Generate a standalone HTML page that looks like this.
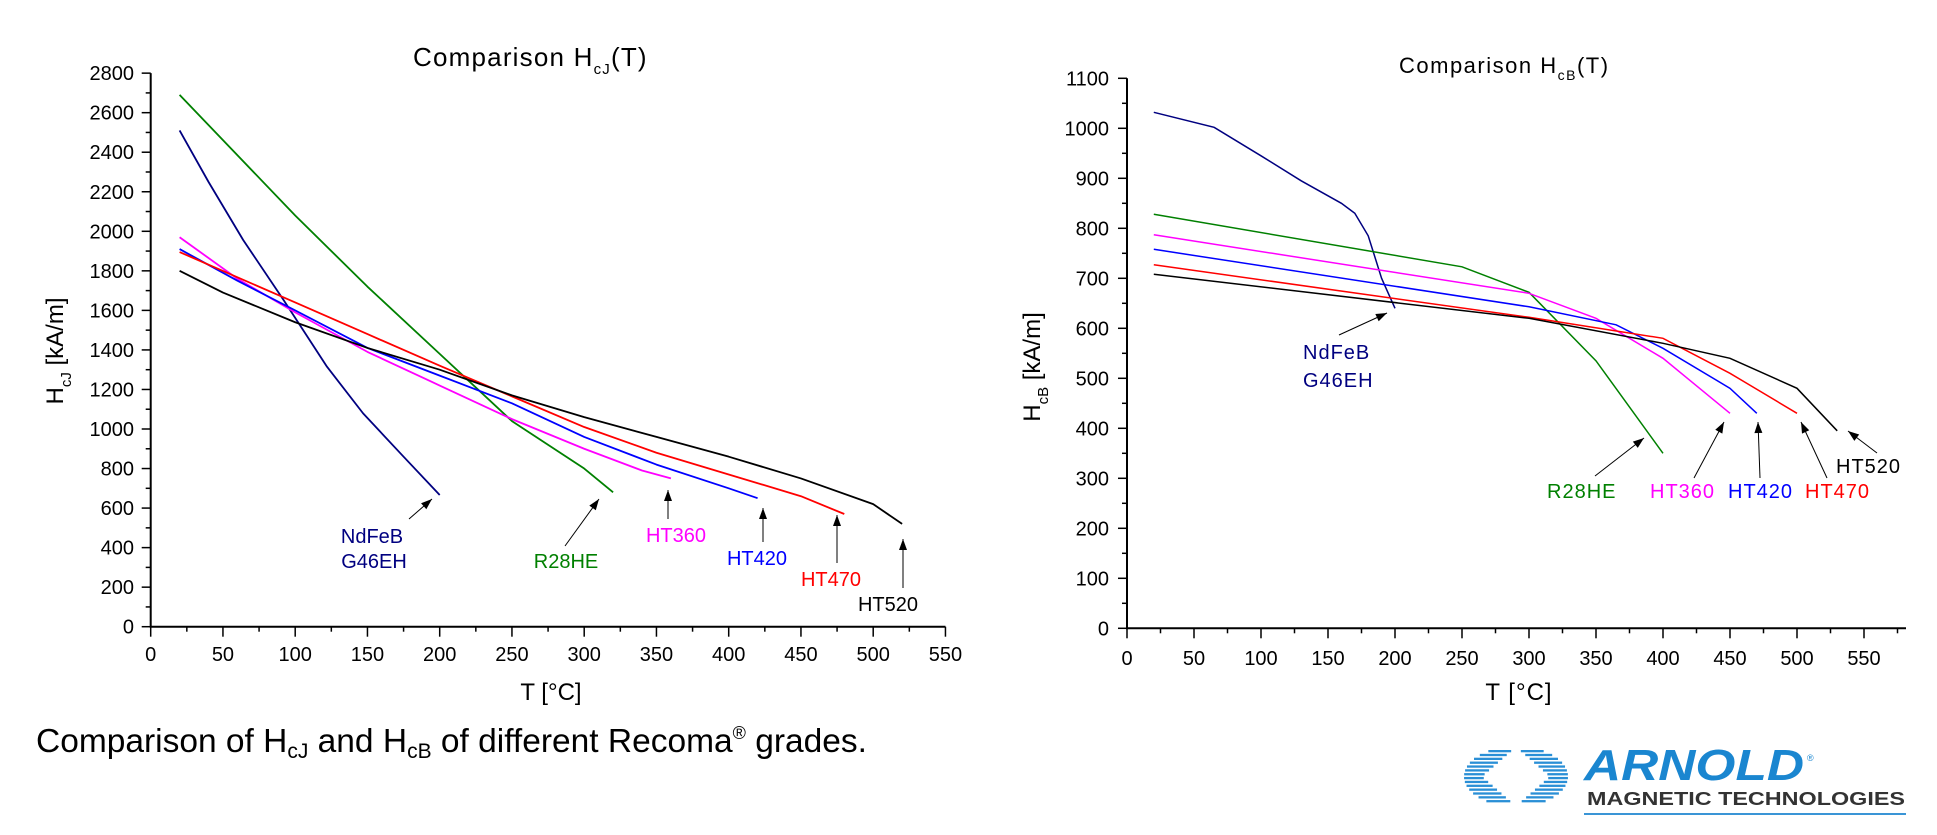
<!DOCTYPE html>
<html><head><meta charset="utf-8"><style>
html,body{margin:0;padding:0;background:#fff;}
svg{display:block;font-family:"Liberation Sans",Arial,sans-serif;}
</style></head><body>
<svg id="s" width="1937" height="835" viewBox="0 0 1937 835" xmlns="http://www.w3.org/2000/svg">
<g id="g"></g>
<!-- Left chart text -->
<text x="413" y="66" font-size="26" letter-spacing="1.2" fill="#000">Comparison H<tspan font-size="15" dy="8">cJ</tspan><tspan dy="-8">(T)</tspan></text>
<text transform="translate(63,351) rotate(-90)" text-anchor="middle" font-size="24" fill="#000">H<tspan font-size="15" dy="8">cJ</tspan><tspan dy="-8"> [kA/m]</tspan></text>
<text x="551" y="700" text-anchor="middle" font-size="24" fill="#000">T [°C]</text>
<g font-size="20">
<text x="372" y="543" text-anchor="middle" fill="#000080">NdFeB</text>
<text x="374" y="568" text-anchor="middle" fill="#000080">G46EH</text>
<text x="566" y="568" text-anchor="middle" fill="#008000">R28HE</text>
<text x="676" y="542" text-anchor="middle" fill="#ff00ff">HT360</text>
<text x="757" y="565" text-anchor="middle" fill="#0000ff">HT420</text>
<text x="831" y="586" text-anchor="middle" fill="#ff0000">HT470</text>
<text x="888" y="611" text-anchor="middle" fill="#000">HT520</text>
</g>
<!-- Right chart text -->
<text x="1399" y="73" font-size="22" letter-spacing="1.5" fill="#000">Comparison H<tspan font-size="14" dy="7">cB</tspan><tspan dy="-7">(T)</tspan></text>
<text transform="translate(1040,367) rotate(-90)" text-anchor="middle" font-size="24" fill="#000">H<tspan font-size="15" dy="8">cB</tspan><tspan dy="-8"> [kA/m]</tspan></text>
<text x="1519" y="700" text-anchor="middle" font-size="24" letter-spacing="1" fill="#000">T [°C]</text>
<g font-size="20" letter-spacing="1">
<text x="1303" y="359" fill="#000080">NdFeB</text>
<text x="1303" y="387" fill="#000080">G46EH</text>
<text x="1547" y="498" fill="#008000">R28HE</text>
<text x="1650" y="498" fill="#ff00ff">HT360</text>
<text x="1728" y="498" fill="#0000ff">HT420</text>
<text x="1805" y="498" fill="#ff0000">HT470</text>
<text x="1836" y="473" fill="#000">HT520</text>
</g>
<!-- caption -->
<text x="36" y="752" font-size="33.5" fill="#000">Comparison of H<tspan font-size="21" dy="6">cJ</tspan><tspan dy="-6"> and H</tspan><tspan font-size="21" dy="6">cB</tspan><tspan dy="-6"> of different Recoma</tspan><tspan font-size="18" dy="-13">®</tspan><tspan dy="13"> grades.</tspan></text>
<!-- logo -->
<g id="logo"></g>
<text x="1584" y="780" font-size="44" font-weight="bold" font-style="italic" fill="#1a86d0" textLength="220" lengthAdjust="spacingAndGlyphs">ARNOLD</text>
<text x="1807" y="761" font-size="9" fill="#1a86d0">®</text>
<text x="1587" y="805" font-size="18" font-weight="bold" fill="#333" textLength="318" lengthAdjust="spacingAndGlyphs">MAGNETIC TECHNOLOGIES</text>
<rect x="1584" y="813" width="322" height="2" fill="#3a95d6"/>
</svg>
<script>
const NS="http://www.w3.org/2000/svg",g=document.getElementById('g');
function el(t,a,p){const e=document.createElementNS(NS,t);for(const k in a)e.setAttribute(k,a[k]);(p||g).appendChild(e);return e;}
function txt(x,y,s,anchor){const e=el('text',{x:x,y:y,'font-size':20,'text-anchor':anchor,fill:'#000'});e.textContent=s;}
// LEFT
let LX=T=>150.7+1.445*T, LY=H=>626.7-0.1977*H;
el('path',{d:`M${LX(0)},${LY(2800)}V${LY(0)}H${LX(550)}`,stroke:'#000','stroke-width':2,fill:'none'});
for(let h=0;h<=2800;h+=100){let y=LY(h);let maj=h%200==0;el('line',{x1:LX(0),x2:LX(0)-(maj?9:5),y1:y,y2:y,stroke:'#000','stroke-width':1.5});if(maj)txt(134,y+7,String(h),'end');}
for(let t=0;t<=550;t+=25){let x=LX(t);let maj=t%50==0;el('line',{x1:x,x2:x,y1:LY(0),y2:LY(0)+(maj?10:5),stroke:'#000','stroke-width':1.5});if(maj)txt(x,661,String(t),'middle');}
const Ld=[
['#000080',[[20,2510],[40,2250],[64,1956],[92,1652],[122,1315],[147,1079],[175,860],[200,666]]],
['#008000',[[20,2690],[100,2080],[150,1720],[200,1380],[250,1040],[300,800],[320,680]]],
['#ff00ff',[[20,1970],[60,1760],[100,1590],[150,1390],[200,1220],[250,1050],[300,900],[340,790],[360,750]]],
['#0000ff',[[20,1910],[60,1750],[100,1600],[150,1410],[200,1270],[250,1130],[300,960],[350,820],[400,700],[420,650]]],
['#ff0000',[[20,1895],[100,1640],[150,1480],[200,1320],[250,1165],[300,1010],[350,880],[400,770],[450,660],[480,570]]],
['#000000',[[20,1800],[50,1690],[100,1540],[150,1410],[200,1300],[250,1170],[300,1060],[350,960],[400,860],[450,750],[500,620],[520,520]]]];
Ld.forEach(([c,p])=>el('polyline',{points:p.map(q=>LX(q[0])+','+LY(q[1])).join(' '),stroke:c,'stroke-width':1.8,fill:'none','stroke-linejoin':'round'}));
// RIGHT
let RX=T=>1127+1.34*T, RY=H=>628.3-0.5*H;
el('path',{d:`M${RX(0)},${RY(1100)}V${RY(0)}H1906`,stroke:'#000','stroke-width':2,fill:'none'});
for(let h=0;h<=1100;h+=50){let y=RY(h);let maj=h%100==0;el('line',{x1:RX(0),x2:RX(0)-(maj?9:5),y1:y,y2:y,stroke:'#000','stroke-width':1.5});if(maj)txt(1109,y+7,String(h),'end');}
for(let t=0;t<=575;t+=25){let x=RX(t);let maj=t%50==0;el('line',{x1:x,x2:x,y1:RY(0),y2:RY(0)+(maj?10:5),stroke:'#000','stroke-width':1.5});if(maj)txt(x,665,String(t),'middle');}
const Rd=[
['#000080',[[20,1032],[65,1002],[100,945],[130,895],[160,850],[170,830],[180,785],[190,700],[200,640]]],
['#008000',[[20,828],[250,723],[300,672],[350,535],[400,350]]],
['#ff00ff',[[20,787],[300,670],[350,620],[400,540],[450,430]]],
['#0000ff',[[20,758],[300,643],[365,607],[400,560],[450,480],[470,430]]],
['#ff0000',[[20,727],[300,622],[400,580],[450,510],[500,430]]],
['#000000',[[20,708],[300,620],[400,570],[450,540],[500,480],[530,395]]]];
Rd.forEach(([c,p])=>el('polyline',{points:p.map(q=>RX(q[0])+','+RY(q[1])).join(' '),stroke:c,'stroke-width':1.5,fill:'none'}));
// arrows
function arrow(x1,y1,x2,y2){el('line',{x1:x1,y1:y1,x2:x2,y2:y2,stroke:'#000','stroke-width':1});
 let a=Math.atan2(y2-y1,x2-x1),L=11,W=4;
 let bx=x2-L*Math.cos(a),by=y2-L*Math.sin(a),nx=-Math.sin(a)*W,ny=Math.cos(a)*W;
 el('polygon',{points:`${x2},${y2} ${bx+nx},${by+ny} ${bx-nx},${by-ny}`,fill:'#000'});}
[[409,519,432,499],[565,546,599,499],[668,519,668,490],[763,542,763,508],[837,563,837,515],[903,588,903,539],
 [1339,335,1387,313],[1595,476,1644,438],[1694,478,1724,422],[1760,478,1758,422],[1827,478,1801,422],[1877,453,1848,431]].forEach(a=>arrow(...a));
// logo: striped ellipse with white diamond
const lg=document.getElementById('logo');
const cx=1516,cy=776.5,hw=31,hh=27;
for(let i=0;i<14;i++){let y=750+i*3.85;let yc=y+1.1;let dy=Math.abs(yc-cy);
 let outer=52*Math.sqrt(Math.max(0,1-Math.pow(dy/30,2)));
 let inner=hw*(1-dy/hh)+3;
 let L1=cx-outer,L2=cx-inner,R1=cx+inner,R2=cx+outer;
 if(L2>L1) el('rect',{x:L1,y:y,width:L2-L1,height:2.3,fill:'#2a8fd6'},lg);
 if(R2>R1) el('rect',{x:R1,y:y,width:R2-R1,height:2.3,fill:'#2a8fd6'},lg);}
</script>
</body></html>
